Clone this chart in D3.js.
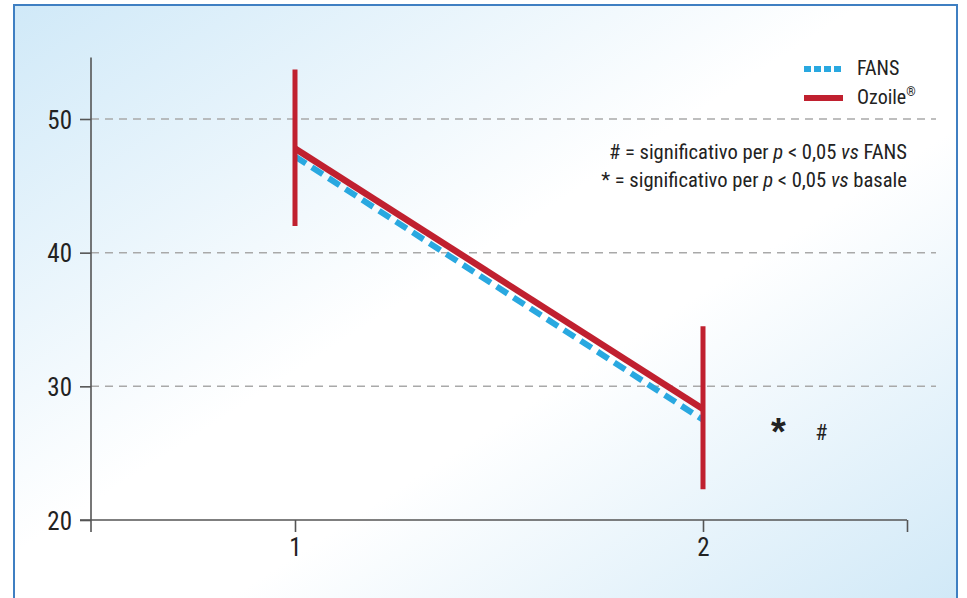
<!DOCTYPE html>
<html>
<head>
<meta charset="utf-8">
<script src="https://cdn.jsdelivr.net/npm/d3@7"></script>
<style>
  body { margin: 0; background: #fff; }
  svg { display: block; font-family: "Roboto Condensed", "Liberation Sans Narrow", sans-serif; }
</style>
</head>
<body>
<div id="chart"></div>
<script>
// timepoints and values
const timepoints = [1, 2];
const fans = [47.2, 27.5];
const ozoile = [47.8, 28.3];
const ozoileLow = [42.0, 22.3];
const ozoileHigh = [53.7, 34.5];
const yTicks = [20, 30, 40, 50];
const gridTicks = [30, 40, 50];
const seriesNames = ['FANS', 'Ozoile'];
const notes = [
  ['# = significativo per ', 'p', ' < 0,05 ', 'vs', ' FANS'],
  ['* = significativo per ', 'p', ' < 0,05 ', 'vs', ' basale']
];
const marks = [{x: 2.185, y: 25.6, t: '*'}, {x: 2.29, y: 26.0, t: '#'}];

const width = 967, height = 598;
const svg = d3.select('#chart').append('svg')
  .attr('width', width)
  .attr('height', height);

const defs = svg.append('defs');
const grad = defs.append('linearGradient')
  .attr('id', 'bg')
  .attr('x1', '0%').attr('y1', '0%')
  .attr('x2', '100%').attr('y2', '100%');
grad.append('stop').attr('offset', '0%').attr('stop-color', '#d0e9f8');
grad.append('stop').attr('offset', '45%').attr('stop-color', '#ffffff');
grad.append('stop').attr('offset', '60%').attr('stop-color', '#ffffff');
grad.append('stop').attr('offset', '100%').attr('stop-color', '#cfe8f7');

svg.append('rect')
  .attr('x', 14).attr('y', 5)
  .attr('width', 943).attr('height', 610)
  .attr('fill', 'url(#bg)')
  .attr('stroke', '#3f7fc2')
  .attr('stroke-width', 2);

const x = d3.scaleLinear().domain([0.5, 2.5]).range([91, 907]);
const y = d3.scaleLinear().domain([20, 50]).range([520, 119]);

// grid
svg.append('g')
  .selectAll('line')
  .data(gridTicks)
  .join('line')
  .attr('x1', x(0.5)).attr('x2', 936)
  .attr('y1', d => y(d)).attr('y2', d => y(d))
  .attr('stroke', '#a9a9a9')
  .attr('stroke-width', 1.5)
  .attr('stroke-dasharray', '8,6');

const fontFam = '"Roboto Condensed", "Liberation Sans Narrow", sans-serif';

// y axis
const yAxis = svg.append('g')
  .attr('transform', `translate(${x(0.5)},0)`)
  .call(d3.axisLeft(y).tickValues(yTicks).tickSize(11).tickPadding(8).tickFormat(d3.format('d')));
yAxis.select('.domain').remove();
yAxis.append('line')
  .attr('y1', y(54.6)).attr('y2', 532)
  .attr('stroke', '#555').attr('stroke-width', 1.6);
yAxis.selectAll('.tick line').attr('stroke', '#555').attr('stroke-width', 1.6);
yAxis.selectAll('.tick text')
  .attr('fill', '#222')
  .attr('font-size', 25)
  .attr('dy', '0.36em')
  .attr('font-family', fontFam);

// x axis
const xAxis = svg.append('g')
  .attr('transform', `translate(0,${y(20)})`)
  .call(d3.axisBottom(x).tickValues([1, 2, 2.5]).tickSize(12).tickPadding(6)
    .tickFormat(d => d === 2.5 ? '' : d3.format('d')(d)));
xAxis.select('.domain').remove();
xAxis.append('line')
  .attr('x1', 80).attr('x2', x(2.5))
  .attr('stroke', '#555').attr('stroke-width', 1.6);
xAxis.selectAll('.tick line').attr('stroke', '#555').attr('stroke-width', 1.6);
xAxis.selectAll('.tick text')
  .attr('fill', '#222')
  .attr('font-size', 25)
  .attr('font-family', fontFam);

const red = '#c0202f', blue = '#29a8e0';

const line = d3.line()
  .x((d, i) => x(timepoints[i]))
  .y(d => y(d));

svg.append('path')
  .datum(fans)
  .attr('d', line)
  .attr('fill', 'none')
  .attr('stroke', blue)
  .attr('stroke-width', 6)
  .attr('stroke-dasharray', '13,7');

svg.append('path')
  .datum(ozoile)
  .attr('d', line)
  .attr('fill', 'none')
  .attr('stroke', red)
  .attr('stroke-width', 6.5);

// error bars
svg.append('g')
  .selectAll('line')
  .data(timepoints)
  .join('line')
  .attr('x1', d => x(d)).attr('x2', d => x(d))
  .attr('y1', (d, i) => y(ozoileLow[i]))
  .attr('y2', (d, i) => y(ozoileHigh[i]))
  .attr('stroke', red)
  .attr('stroke-width', 5);

// significance marks
svg.append('g')
  .selectAll('text')
  .data(marks)
  .join('text')
  .attr('x', d => x(d.x))
  .attr('y', d => y(d.y))
  .attr('text-anchor', 'middle')
  .attr('font-size', d => d.t === '*' ? 38 : 22)
  .attr('font-family', d => d.t === '*' ? '"Liberation Sans", sans-serif' : fontFam)
  .attr('font-weight', d => d.t === '*' ? 'bold' : 'normal')
  .attr('fill', '#222')
  .text(d => d.t);

// legend
const legend = svg.append('g').attr('transform', 'translate(804,69)');
seriesNames.forEach((name, i) => {
  const g = legend.append('g').attr('transform', `translate(0,${i * 29})`);
  g.append('line')
    .attr('x1', 0).attr('x2', 39)
    .attr('stroke', i === 0 ? blue : red)
    .attr('stroke-width', 6)
    .attr('stroke-dasharray', i === 0 ? '7,3' : null);
  const t = g.append('text')
    .attr('x', 53).attr('y', 6)
    .attr('font-size', 20)
    .attr('fill', '#222')
    .text(name);
  if (i === 1) {
    t.append('tspan').attr('font-size', 12).attr('dy', -8).text('®');
  }
});

// notes
notes.forEach((parts, i) => {
  const t = svg.append('text')
    .attr('x', 907).attr('y', 159 + i * 28)
    .attr('text-anchor', 'end')
    .attr('font-size', 20.6)
    .attr('fill', '#222');
  parts.forEach((p, j) => {
    t.append('tspan')
      .attr('font-style', j === 1 || j === 3 ? 'italic' : 'normal')
      .text(p);
  });
});
</script>
</body>
</html>
